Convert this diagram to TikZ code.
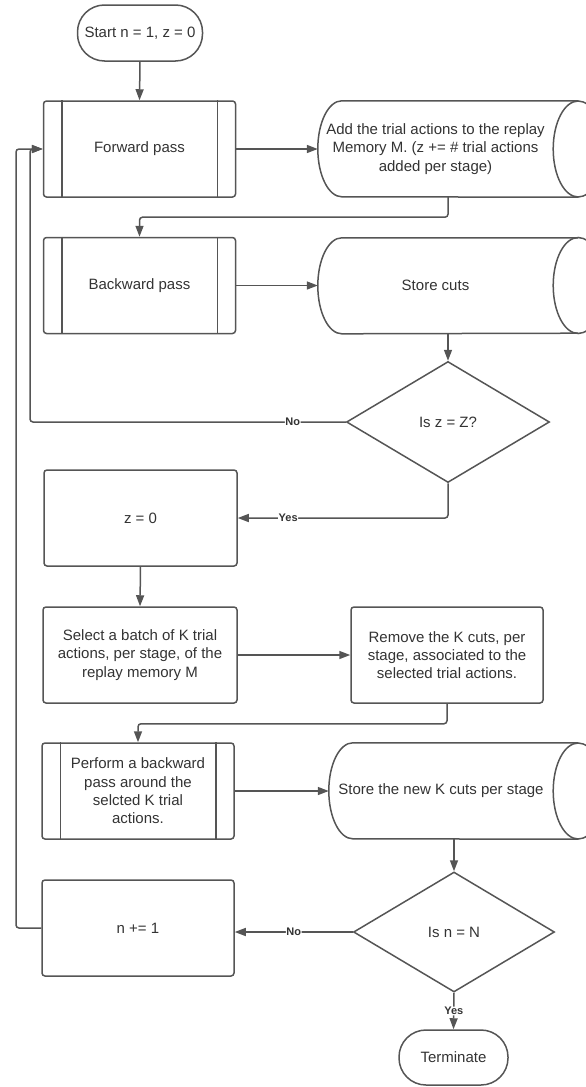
\documentclass[tikz,border=0pt]{standalone}
\usepackage{fontspec}
\setmainfont{Liberation Sans}
\usetikzlibrary{arrows.meta,shapes.geometric,calc}
\definecolor{ln}{HTML}{555555}
\definecolor{tx}{HTML}{333333}
\newcommand\drawcyl[1]{%
  \draw[draw=ln, line width=1.5pt] ($(#1.north east)+(25,0)$) -- ($(#1.north west)+(24,0)$)
    arc[start angle=270, end angle=90, x radius=24, y radius=48] -- ($(#1.south east)+(25,0)$);
  \draw[draw=ln, line width=1.5pt] ($(#1.east)+(25,0)$) ellipse[x radius=25, y radius=48];}
\newcommand\drawbars[1]{%
  \draw[draw=ln, line width=1.5pt] ($(#1.north west)+(19,0)$) -- ($(#1.south west)+(19,0)$);
  \draw[draw=ln, line width=1.5pt] ($(#1.north east)+(-19,0)$) -- ($(#1.south east)+(-19,0)$);}
\begin{document}
\begin{tikzpicture}[x=1pt, y=-1pt,
  base/.style={draw=ln, line width=1.5pt, text=tx, font=\fontsize{15}{18.3}\selectfont, align=center, inner sep=0pt},
  box/.style={base, rounded corners=3pt, minimum width=192pt, minimum height=96pt},
  termbox/.style={base, rounded corners=27pt, minimum height=56pt},
  cyl/.style={text=tx, font=\fontsize{15}{18.3}\selectfont, align=center, inner sep=0pt, minimum height=96pt},
  dec/.style={base, diamond, aspect=1.7, minimum width=203pt, minimum height=121pt},
  conn/.style={draw=ln, line width=1.5pt, rounded corners=3pt, -{Triangle[length=11pt,width=8pt]}},
  lbl/.style={fill=white, text=tx, font=\bfseries\fontsize{11}{13}\selectfont, inner sep=0.5pt}]
\useasboundingbox (0,0) rectangle (586,1087);
\clip (0,0) rectangle (586,1087);

\node[termbox, minimum width=125pt] (start) at (140,33) {Start n = 1, z = 0};
\node[box] (fwd) at (139.5,149) {Forward pass};
\drawbars{fwd}
\node[cyl, minimum width=235pt] (c1) at (435.5,149) {Add the trial actions to the replay\\Memory M. (z += \# trial actions\\added per stage)};
\drawcyl{c1}
\node[box] (bwd) at (139.5,285.5) {Backward pass};
\drawbars{bwd}
\node[cyl, minimum width=235pt, minimum height=95pt] (c2) at (435.5,285.5) {Store cuts};
\drawcyl{c2}
\node[dec] (d1) at (448,422) {Is z = Z?};
\node[box, minimum width=193pt] (z0) at (140.5,518) {z = 0};
\node[box, minimum width=194pt] (sel) at (140,655) {Select a batch of K trial\\actions, per stage, of the\\replay memory M};
\node[box] (rem) at (447,655) {Remove the K cuts, per\\stage, associated to the\\selected trial actions.};
\node[box] (perf) at (138,791) {Perform a backward\\pass around the\\selcted K trial\\actions.};
\drawbars{perf}
\node[cyl, minimum width=224pt] (c3) at (441,791) {Store the new K cuts per stage};
\drawcyl{c3}
\node[dec, minimum width=201pt, minimum height=120pt] (d2) at (454,932) {Is n = N};
\node[box] (ninc) at (138,928) {n += 1};
\node[termbox, minimum width=109pt, minimum height=55pt] (term) at (453.5,1057.5) {Terminate};

\coordinate (xl1) at (30,0);
\coordinate (xl2) at (16,0);

\draw[conn] (start.south) -- (fwd.north);
\draw[conn] (fwd.east) -- (c1.west);
\draw[conn] (c1.south -| d1.north) -- ++(0,20) -| (bwd.north);
\draw[conn] (bwd.east) -- (c2.west);
\draw[conn] (c2.south -| d1.north) -- (d1.north);
\draw[conn] (d1.west) -- node[lbl, pos=0.168]{No} (d1.west -| xl1) |- (fwd.west);
\draw[conn] (d1.south) |- node[lbl, pos=0.88]{Yes} (z0.east);
\draw[conn] (z0.south) -- (sel.north);
\draw[conn] (sel.east) -- (rem.west);
\draw[conn] (rem.south) -- ++(0,20) -| (perf.north);
\draw[conn] (perf.east) -- (c3.west);
\draw[conn] (c3.south -| d2.north) -- (d2.north);
\draw[conn] (d2.west) -- node[lbl]{No} (d2.west -| ninc.east);
\draw[conn] (ninc.west) -- (ninc.west -| xl2) |- (fwd.west);
\draw[conn] (d2.south) -- node[lbl]{Yes} (term.north);
\end{tikzpicture}
\end{document}
